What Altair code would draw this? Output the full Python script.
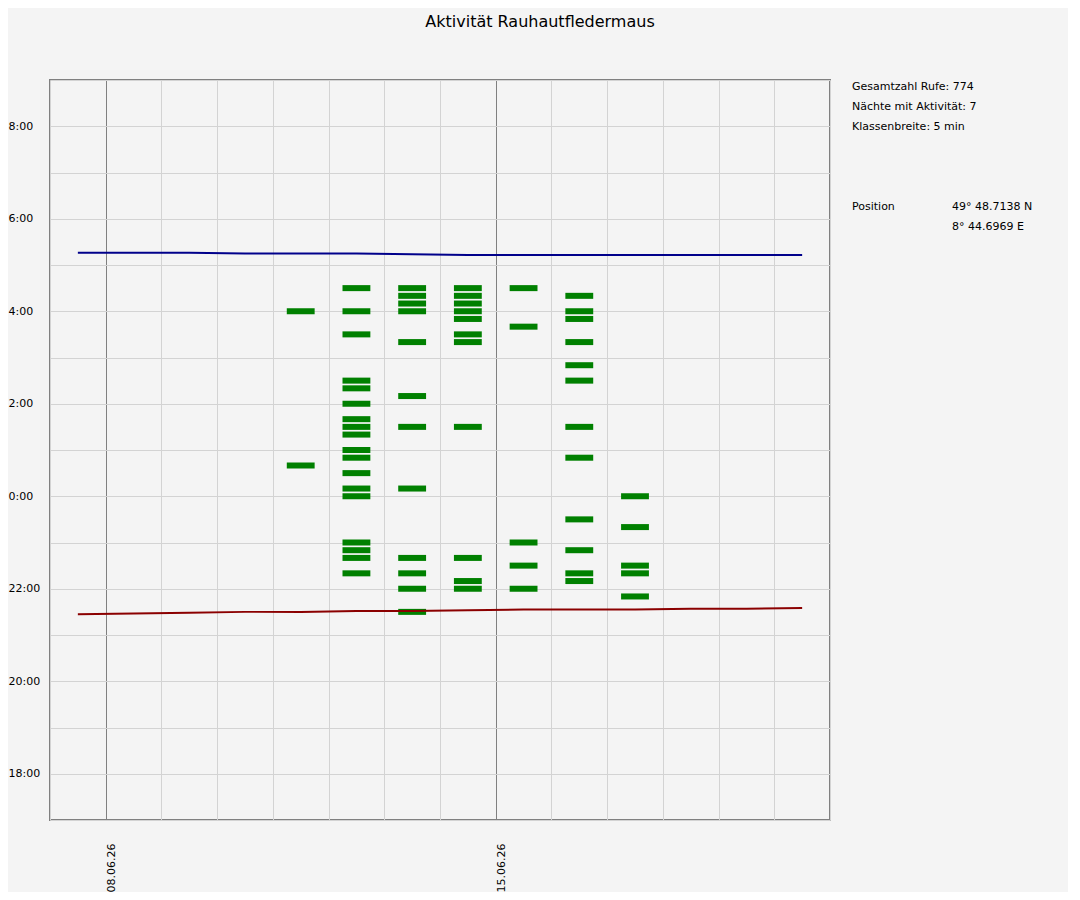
import altair as alt
import pandas as pd

# ---- data ----
night_dates = ["2026-06-11", "2026-06-12", "2026-06-13", "2026-06-14",
               "2026-06-15", "2026-06-16", "2026-06-17"]
calls_1106 = ["04:00", "00:40"]
calls_1206 = ["04:30", "04:00", "03:30", "02:30", "02:20", "02:00", "01:40",
              "01:30", "01:20", "01:00", "00:50", "00:30", "00:10", "00:00",
              "23:00", "22:50", "22:40", "22:20"]
calls_1306 = ["04:30", "04:20", "04:10", "04:00", "03:20", "02:10", "01:30",
              "00:10", "22:40", "22:20", "22:00", "21:30"]
calls_1406 = ["04:30", "04:20", "04:10", "04:00", "03:50", "03:30", "03:20",
              "01:30", "22:40", "22:10", "22:00"]
calls_1506 = ["04:30", "03:40", "23:00", "22:30", "22:00"]
calls_1606 = ["04:20", "04:00", "03:50", "03:20", "02:50", "02:30", "01:30",
              "00:50", "23:30", "22:50", "22:20", "22:10"]
calls_1706 = ["00:00", "23:20", "22:30", "22:20", "21:50"]
calls_per_night = [calls_1106, calls_1206, calls_1306, calls_1406,
                   calls_1506, calls_1606, calls_1706]

sun_dates = ["2026-06-07", "2026-06-08", "2026-06-09", "2026-06-10",
             "2026-06-11", "2026-06-12", "2026-06-13", "2026-06-14",
             "2026-06-15", "2026-06-16", "2026-06-17", "2026-06-18",
             "2026-06-19", "2026-06-20"]
sunset = ["21:27", "21:28", "21:29", "21:30", "21:30", "21:31", "21:31",
          "21:32", "21:33", "21:33", "21:33", "21:34", "21:34", "21:35"]
sunrise = ["05:16", "05:16", "05:16", "05:15", "05:15", "05:15", "05:14",
           "05:13", "05:13", "05:13", "05:13", "05:13", "05:13", "05:13"]

title_text = "Aktivität Rauhautfledermaus"
total_calls = 774
class_width = "5 min"
position_lat = "49° 48.7138 N"
position_lon = "8° 44.6969 E"

week_labels_fmt = "%d.%m.%y"


def to_hours(s):
    h, m = map(int, s.split(":"))
    v = h + m / 60.0
    return v + 24 if v < 12 else v


# bars: one 5-min class per row, drawn over the middle half of the night column
half_h = 0.065
rows = []
for d, calls in zip(night_dates, calls_per_night):
    for c in calls:
        t = to_hours(c)
        rows.append({"start": d + "T06:00:00", "end": d + "T18:00:00",
                     "y0": t - half_h, "y1": t + half_h, "zeit": c})
bars_df = pd.DataFrame(rows)

sun_df = pd.DataFrame({
    "date": [d + "T12:00:00" for d in sun_dates],
    "sunset": [to_hours(s) for s in sunset],
    "sunrise": [to_hours(s) for s in sunrise],
})

font = "DejaVu Sans"

x_scale = alt.Scale(domain=[alt.DateTime(year=2026, month=6, date=7),
                            alt.DateTime(year=2026, month=6, date=21)],
                    nice=False)
y_scale = alt.Scale(domain=[17, 33], nice=False, zero=False)

x_axis = alt.Axis(
    title=None,
    values=[alt.DateTime(year=2026, month=6, date=d) for d in range(7, 22)],
    labelExpr=f"day(datum.value) == 1 ? timeFormat(datum.value, '{week_labels_fmt}') : ''",
    labelAngle=270, labelAlign="right", labelBaseline="top",
    labelPadding=23, labelOverlap=False, labelFlush=False, labelBound=False,
    ticks=False, domain=False,
    grid=True,
    gridColor={"condition": {"test": "day(datum.value) == 1", "value": "#808080"},
               "value": "#d3d3d3"},
    gridWidth=1,
    labelFont=font, labelFontSize=11, labelColor="#000000",
)
y_axis = alt.Axis(
    title=None,
    values=list(range(17, 34)),
    labelExpr="datum.value % 2 == 0 ? (datum.value % 24) + ':00' : ''",
    labelAlign="left", labelBaseline="middle", labelPadding=42,
    labelOverlap=False, labelFlush=False, labelBound=False,
    ticks=False, domain=False, grid=True, gridColor="#d3d3d3", gridWidth=1,
    labelFont=font, labelFontSize=11, labelColor="#000000",
)

bars = alt.Chart(bars_df).mark_rect(color="#008000").encode(
    x=alt.X("start:T", scale=x_scale, axis=x_axis),
    x2="end:T",
    y=alt.Y("y0:Q", scale=y_scale, axis=y_axis),
    y2="y1:Q",
)

sunset_line = alt.Chart(sun_df).mark_line(color="#8b0000", strokeWidth=2).encode(
    x=alt.X("date:T", scale=x_scale, axis=x_axis),
    y=alt.Y("sunset:Q", scale=y_scale, axis=y_axis),
)
sunrise_line = alt.Chart(sun_df).mark_line(color="#00008b", strokeWidth=2).encode(
    x=alt.X("date:T", scale=x_scale, axis=x_axis),
    y=alt.Y("sunrise:Q", scale=y_scale, axis=y_axis),
)

info_df = pd.DataFrame({"text": [
    f"Gesamtzahl Rufe: {total_calls}\n"
    f"Nächte mit Aktivität: {len(night_dates)}\n"
    f"Klassenbreite: {class_width}"
]})
info = alt.Chart(info_df).mark_text(
    align="left", baseline="middle", font=font, fontSize=11, color="#000000",
    lineBreak="\n", lineHeight=20,
).encode(x=alt.value(802), y=alt.value(7), text="text:N")

pos_label = alt.Chart(pd.DataFrame({"text": ["Position"]})).mark_text(
    align="left", baseline="middle", font=font, fontSize=11, color="#000000",
).encode(x=alt.value(802), y=alt.value(127), text="text:N")

pos_value = alt.Chart(pd.DataFrame({"text": [position_lat + "\n" + position_lon]})).mark_text(
    align="left", baseline="middle", font=font, fontSize=11, color="#000000",
    lineBreak="\n", lineHeight=20,
).encode(x=alt.value(902), y=alt.value(127), text="text:N")

title = alt.Chart(pd.DataFrame({"text": [title_text]})).mark_text(
    align="center", baseline="middle", font=font, fontSize=16, color="#000000",
).encode(x=alt.value(490), y=alt.value(-58), text="text:N")

chart = alt.layer(bars, sunset_line, sunrise_line, info, pos_label, pos_value, title).properties(
    width=780, height=740,
    autosize=alt.AutoSizeParams(type="none"),
    padding={"left": 42, "top": 72, "right": 238, "bottom": 72},
    background="#f4f4f4",
).configure_view(
    stroke="#808080", strokeWidth=2, fill="#f4f4f4",
)

chart.save("out.html", embed_options={"renderer": "svg", "actions": False})
